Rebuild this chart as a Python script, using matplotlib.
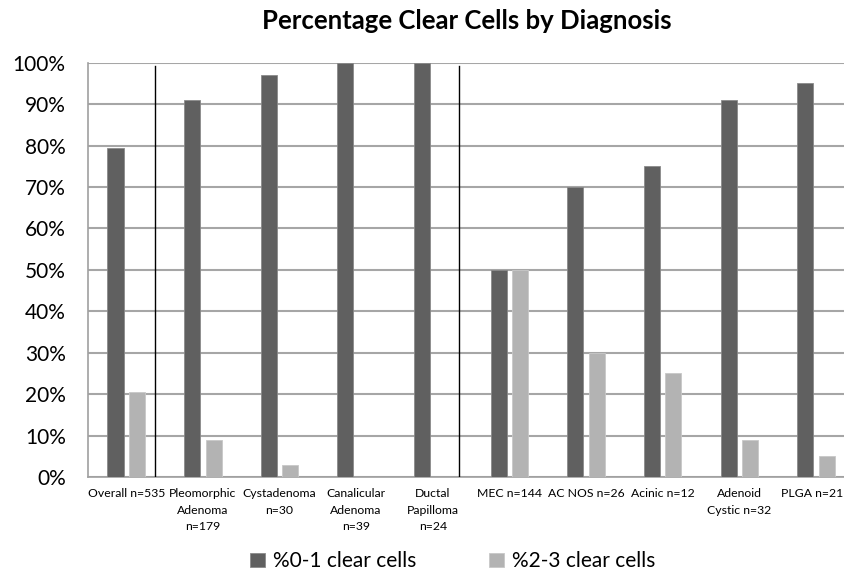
import numpy as np
import matplotlib.pyplot as plt
import matplotlib.transforms as mtransforms

categories = ['Overall n=535', 'Pleomorphic\nAdenoma\nn=179', 'Cystadenoma\nn=30',
              'Canalicular\nAdenoma\nn=39', 'Ductal\nPapilloma\nn=24', 'MEC n=144',
              'AC NOS n=26', 'Acinic n=12', 'Adenoid\nCystic n=32', 'PLGA n=21']
low_clear = [79.5, 91, 97, 100, 100, 50, 70, 75, 91, 95]
high_clear = [20.5, 9, 3, 0, 0, 50, 30, 25, 9, 5]
yticks = [0, 10, 20, 30, 40, 50, 60, 70, 80, 90, 100]

plt.rcParams['font.family'] = ['Lato', 'DejaVu Sans']

fig = plt.figure(figsize=(8.45, 5.7), dpi=100)
ax = fig.add_axes([0.104, 0.163, 0.907, 0.727])

x = np.arange(len(categories))
w = 0.21
ax.bar(x - 0.14, low_clear, w, color='#606060', edgecolor='#8a8a8a', linewidth=0.6,
       label='%0-1 clear cells', zorder=3)
ax.bar(x + 0.14, high_clear, w, color='#b3b3b3', edgecolor='#c8c8c8', linewidth=0.6,
       label='%2-3 clear cells', zorder=3)

# separators between groups
ax.plot([0.37, 0.37], [0, 99.3], color='black', linewidth=1, zorder=4)
ax.plot([4.34, 4.34], [0, 99.3], color='black', linewidth=1, zorder=4)

ax.set_xlim(-0.5, 9.5)
ax.set_ylim(0, 100)
ax.set_yticks(yticks)
ax.set_yticklabels([f'{v}%' for v in yticks], fontsize=15)
ax.set_xticks(x)
ax.set_xticklabels(categories, fontsize=8.8, linespacing=1.6, va='top')
ax.tick_params(axis='both', length=0)
ax.tick_params(axis='y', pad=16)
ax.tick_params(axis='x', pad=8)
ax.yaxis.grid(True, color='#a6a6a6', linewidth=1.5, zorder=0)
for side in ['top', 'right']:
    ax.spines[side].set_visible(False)
for side in ['left', 'bottom']:
    ax.spines[side].set_color('#a0a0a0')
    ax.spines[side].set_linewidth(1.2)

# last label sits right at the image edge; nudge it inside
last = ax.get_xticklabels()[-1]
last.set_transform(last.get_transform() + mtransforms.ScaledTranslation(-4 / 100, 0, fig.dpi_scale_trans))

fig.text(0.553, 0.963, 'Percentage Clear Cells by Diagnosis', ha='center', va='center',
         fontsize=18.5, fontweight='bold')

ax.legend(loc='center', bbox_to_anchor=(0.476, -0.203), ncol=2, frameon=False, fontsize=15,
          handlelength=0.7, handleheight=0.7, handletextpad=0.4, columnspacing=3.5)

fig.savefig('out.png', dpi=100)
